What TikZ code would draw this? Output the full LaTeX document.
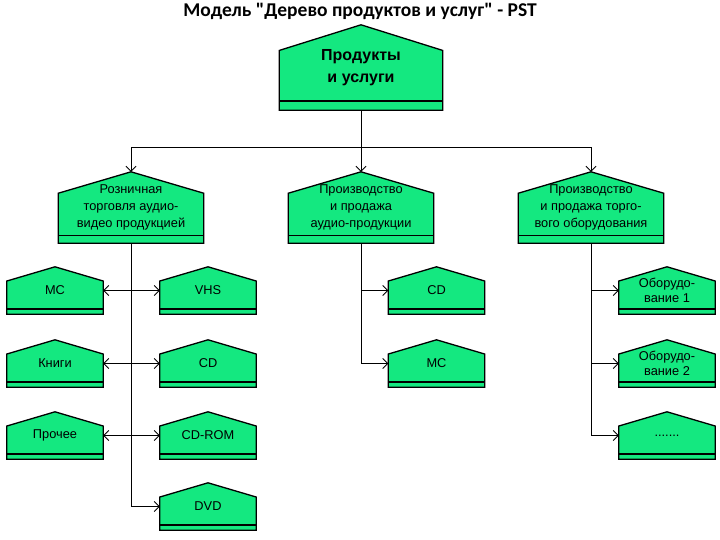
\documentclass[tikz,border=0pt]{standalone}
\usepackage{fontspec}
\setmainfont{Liberation Sans}
\newfontfamily\titlefont{Carlito}
\usepackage{xcolor}
\usetikzlibrary{arrows.meta, calc, backgrounds}
\definecolor{boxgreen}{RGB}{20,232,128}

\begin{document}
\begin{tikzpicture}[
    x=1pt, y=-1pt,
    house/.style={minimum width=#1, inner sep=0pt, align=center},
    big/.style={house=163, minimum height=85, font=\fontsize{16}{22}\selectfont\bfseries},
    mid/.style={house=145, minimum height=71, font=\fontsize{12.8}{17}\selectfont},
    small/.style={house=96, minimum height=47, font=\fontsize{12.8}{15}\selectfont},
    outline/.style={draw=black, line width=1.3pt, fill=boxgreen},
    arrow/.style={-{Straight Barb[length=5pt,width=10pt]}, line width=0.9pt}
]
\useasboundingbox (0,0) rectangle (720,540);
\node[font=\titlefont\bfseries\fontsize{19.5}{22}\selectfont] (title) at (360,11) {Модель "Дерево продуктов и услуг" - PST};

% root
\node[big] (prod) at (361,67.5) {Продукты\\и услуги};

% second level
\node[mid] (retail) at (131,207.5) {Розничная\\торговля аудио-\\видео продукцией};
\node[mid] (audio) at (361,207.5) {Производство\\и продажа\\аудио-продукции};
\node[mid] (equip) at (591,207.5) {Производство\\и продажа торго-\\вого оборудования};

% third level
\node[small] (mc1) at (55,290.5) {МС};
\node[small] (books) at (55,363.5) {Книги};
\node[small] (other) at (55,435.5) {Прочее};
\node[small] (vhs) at (208,290.5) {VHS};
\node[small] (cd1) at (208,363.5) {CD};
\node[small] (cdrom) at (208,435.5) {CD-ROM};
\node[small] (dvd) at (208,506.5) {DVD};
\node[small] (cd2) at (436.5,290.5) {CD};
\node[small] (mc2) at (436.5,363.5) {МС};
\node[small] (eq1) at (667,290.5) {Оборудо-\\вание 1};
\node[small] (eq2) at (667,363.5) {Оборудо-\\вание 2};
\node[small] (eq3) at (667,435.5) {.......};

% house outlines
\begin{scope}[on background layer]
\foreach \n in {prod,retail,audio,equip,mc1,books,other,vhs,cd1,cdrom,dvd,cd2,mc2,eq1,eq2,eq3} {
    \draw[outline] (\n.south west) -- ($(\n.south west)!0.7!(\n.north west)$) -- (\n.north)
        -- ($(\n.south east)!0.7!(\n.north east)$) -- (\n.south east) -- cycle;
    \draw[line width=1.6pt] ($(\n.south west)!0.11!(\n.north west)$) -- ($(\n.south east)!0.11!(\n.north east)$);
}
\end{scope}

\draw[arrow] (prod.south) -- ++(0,37) -| (retail.north);
\draw[arrow] (prod.south) -- (audio.north);
\draw[arrow] (prod.south) -- ++(0,37) -| (equip.north);

\foreach \t in {mc1,books,other}
    \draw[arrow] (retail.south) |- (\t.east);
\foreach \t in {vhs,cd1,cdrom,dvd}
    \draw[arrow] (retail.south) |- (\t.west);
\foreach \t in {cd2,mc2}
    \draw[arrow] (audio.south) |- (\t.west);
\foreach \t in {eq1,eq2,eq3}
    \draw[arrow] (equip.south) |- (\t.west);
\end{tikzpicture}
\end{document}
